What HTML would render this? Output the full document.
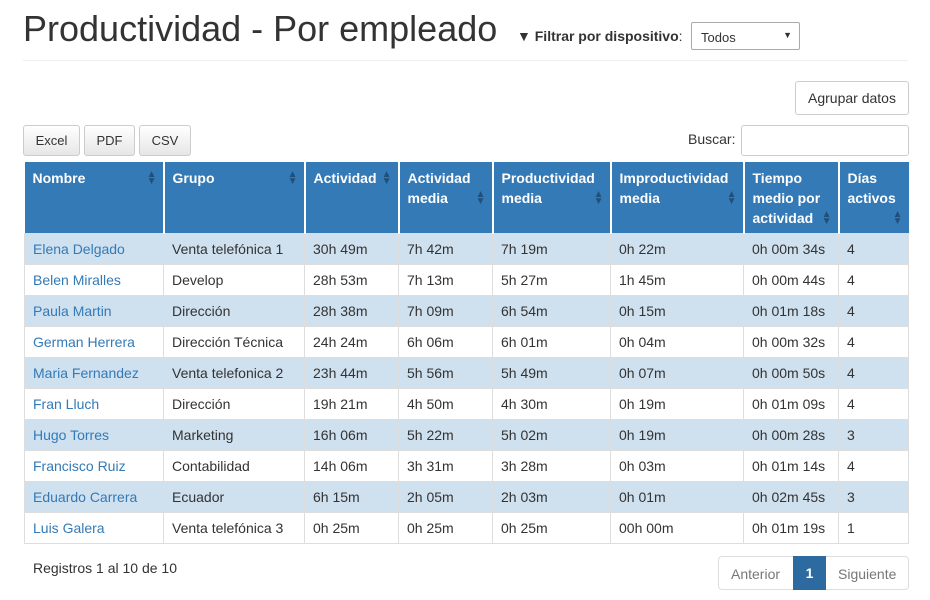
<!DOCTYPE html>
<html><head><meta charset="utf-8"><style>
body{margin:0;width:930px;height:600px;background:#fff;font-family:"Liberation Sans",sans-serif;color:#333;position:relative;overflow:hidden}
.a{position:absolute}
h1{position:absolute;left:23px;top:8px;margin:0;font-size:36px;font-weight:normal;color:#333}
.btn{position:absolute;border:1px solid #ccc;border-radius:3px;background:linear-gradient(#fff,#e6e6e6);font-size:13px;text-align:center;box-sizing:border-box}
table{position:absolute;left:24px;top:162px;border-collapse:collapse;table-layout:fixed;font-size:14px}
td,th{border:1px solid #ddd;padding:0 8px;box-sizing:border-box;vertical-align:middle;position:relative}
th{background:#337ab7;color:#fff;text-align:left;vertical-align:top;padding-top:6px;line-height:20px;border-color:#fff;border-width:0 2px 0 0;height:71px}
th:last-child{border-right:0}
td{height:31px}
tbody tr:nth-child(odd) td{background:#cfe0ef}
td:first-child{color:#337ab7}
.s{position:absolute;right:6px;color:#1f4f7a;font-size:10px;line-height:7px}
</style></head><body>
<h1>Productividad - Por empleado</h1>
<div class="a" style="left:517px;top:28px;font-size:14px;font-weight:bold;color:#333">&#x25BC;&#xFE0E; Filtrar por dispositivo<span style="font-weight:normal">:</span></div>
<div class="a" style="left:691px;top:22px;width:109px;height:28px;border:1px solid #aaa;border-radius:2px;box-sizing:border-box;font-size:13px;padding:7px 0 0 9px">Todos<span style="position:absolute;right:7px;top:7px;font-size:9px">&#9660;</span></div>
<div class="a" style="left:23px;top:60px;width:885px;height:1px;background:#eee"></div>
<div class="btn" style="left:795px;top:81px;width:114px;height:34px;background:#fff;font-size:14px;line-height:32px">Agrupar datos</div>
<div class="btn" style="left:23px;top:125px;width:57px;height:31px;line-height:29px">Excel</div>
<div class="btn" style="left:84px;top:125px;width:51px;height:31px;line-height:29px">PDF</div>
<div class="btn" style="left:139px;top:125px;width:52px;height:31px;line-height:29px">CSV</div>
<div class="a" style="left:688px;top:131px;font-size:14px">Buscar:</div>
<div class="a" style="left:741px;top:125px;width:168px;height:31px;border:1px solid #ccc;border-radius:3px;box-sizing:border-box"></div>
<table>
<colgroup><col style="width:139px"><col style="width:141px"><col style="width:94px"><col style="width:94px"><col style="width:118px"><col style="width:133px"><col style="width:95px"><col style="width:70px"></colgroup>
<thead><tr>
<th>Nombre<span class="s" style="top:9px">▲<br>▼</span></th>
<th>Grupo<span class="s" style="top:9px">▲<br>▼</span></th>
<th>Actividad<span class="s" style="top:9px">▲<br>▼</span></th>
<th>Actividad media<span class="s" style="top:29px">▲<br>▼</span></th>
<th>Productividad media<span class="s" style="top:29px">▲<br>▼</span></th>
<th>Improductividad media<span class="s" style="top:29px">▲<br>▼</span></th>
<th>Tiempo medio por actividad<span class="s" style="top:49px">▲<br>▼</span></th>
<th>Días activos<span class="s" style="top:49px">▲<br>▼</span></th>
</tr></thead>
<tbody>
<tr><td>Elena Delgado</td><td>Venta telefónica 1</td><td>30h 49m</td><td>7h 42m</td><td>7h 19m</td><td>0h 22m</td><td>0h 00m 34s</td><td>4</td></tr>
<tr><td>Belen Miralles</td><td>Develop</td><td>28h 53m</td><td>7h 13m</td><td>5h 27m</td><td>1h 45m</td><td>0h 00m 44s</td><td>4</td></tr>
<tr><td>Paula Martin</td><td>Dirección</td><td>28h 38m</td><td>7h 09m</td><td>6h 54m</td><td>0h 15m</td><td>0h 01m 18s</td><td>4</td></tr>
<tr><td>German Herrera</td><td>Dirección Técnica</td><td>24h 24m</td><td>6h 06m</td><td>6h 01m</td><td>0h 04m</td><td>0h 00m 32s</td><td>4</td></tr>
<tr><td>Maria Fernandez</td><td>Venta telefonica 2</td><td>23h 44m</td><td>5h 56m</td><td>5h 49m</td><td>0h 07m</td><td>0h 00m 50s</td><td>4</td></tr>
<tr><td>Fran Lluch</td><td>Dirección</td><td>19h 21m</td><td>4h 50m</td><td>4h 30m</td><td>0h 19m</td><td>0h 01m 09s</td><td>4</td></tr>
<tr><td>Hugo Torres</td><td>Marketing</td><td>16h 06m</td><td>5h 22m</td><td>5h 02m</td><td>0h 19m</td><td>0h 00m 28s</td><td>3</td></tr>
<tr><td>Francisco Ruiz</td><td>Contabilidad</td><td>14h 06m</td><td>3h 31m</td><td>3h 28m</td><td>0h 03m</td><td>0h 01m 14s</td><td>4</td></tr>
<tr><td>Eduardo Carrera</td><td>Ecuador</td><td>6h 15m</td><td>2h 05m</td><td>2h 03m</td><td>0h 01m</td><td>0h 02m 45s</td><td>3</td></tr>
<tr><td>Luis Galera</td><td>Venta telefónica 3</td><td>0h 25m</td><td>0h 25m</td><td>0h 25m</td><td>00h 00m</td><td>0h 01m 19s</td><td>1</td></tr>
</tbody></table>
<div class="a" style="left:33px;top:560px;font-size:14px">Registros 1 al 10 de 10</div>
<div class="a" style="left:718px;top:556px;width:191px;height:34px;border:1px solid #ddd;border-radius:4px;box-sizing:border-box;font-size:14px;color:#777">
<span class="a" style="left:12px;top:9px">Anterior</span>
<span class="a" style="left:74px;top:-1px;width:33px;height:34px;background:#2c6aa0;color:#fff;text-align:center;line-height:34px;font-weight:bold">1</span>
<span class="a" style="left:119px;top:9px">Siguiente</span></div>
</body></html>
